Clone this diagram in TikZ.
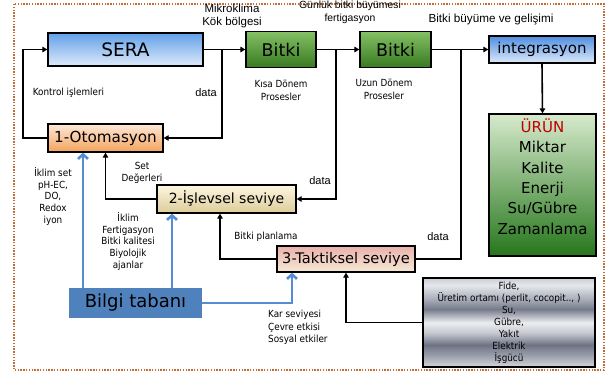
\documentclass[tikz,border=0pt]{standalone}
\usepackage{fontspec}
\setmainfont{DejaVu Sans}
\newfontfamily\cond{DejaVu Sans Condensed}
\newfontfamily\arialf{Liberation Sans}
\usetikzlibrary{arrows.meta}
\definecolor{brd}{RGB}{190,110,55}
\definecolor{seraT}{RGB}{98,160,232}
\definecolor{seraB}{RGB}{222,234,250}
\definecolor{intT}{RGB}{78,142,224}
\definecolor{bitT}{RGB}{132,192,100}
\definecolor{bitB}{RGB}{56,122,34}
\definecolor{urunT}{RGB}{214,234,204}
\definecolor{urunB}{RGB}{38,118,28}
\definecolor{otoT}{RGB}{253,232,216}
\definecolor{otoB}{RGB}{243,163,92}
\definecolor{islT}{RGB}{253,246,226}
\definecolor{islB}{RGB}{220,204,152}
\definecolor{takT}{RGB}{234,178,172}
\definecolor{takB}{RGB}{246,232,212}
\definecolor{bilgi}{RGB}{79,129,189}
\definecolor{bluel}{RGB}{84,141,212}
\definecolor{urunred}{RGB}{192,0,0}
\definecolor{mA}{RGB}{212,214,220}
\definecolor{mB}{RGB}{158,163,174}
\definecolor{mC}{RGB}{110,115,132}
\definecolor{mD}{RGB}{196,199,207}
\definecolor{mE}{RGB}{236,237,240}
\definecolor{mF}{RGB}{118,123,140}
\definecolor{mG}{RGB}{164,168,180}
\definecolor{mH}{RGB}{230,232,236}
\definecolor{mI}{RGB}{201,204,212}
\pgfdeclareverticalshading{metal}{100bp}{color(0bp)=(mA); color(25bp)=(mA); color(31bp)=(mB); color(37.5bp)=(mC); color(44bp)=(mD); color(50bp)=(mE); color(57.5bp)=(mF); color(62.5bp)=(mG); color(71bp)=(mH); color(75bp)=(mI); color(100bp)=(mI)}
\begin{document}
\begin{tikzpicture}[x=1pt,y=-1pt,
  bx/.style={draw=black, line width=1.3pt, rectangle, inner sep=0pt, align=center},
  arr/.style={draw=black, line width=1.6pt, -{Triangle[length=5pt,width=5.5pt]}},
  ln/.style={draw=black, line width=1.6pt},
  barr/.style={draw=bluel, line width=2.6pt, -{Straight Barb[length=4.5pt,width=10pt]}},
  lab/.style={font=\cond\fontsize{9.8}{12}\selectfont, align=center, inner sep=0pt},
  alab/.style={font=\arialf\fontsize{11}{13.5}\selectfont, align=center, inner sep=0pt}]
\useasboundingbox (0,0) rectangle (611,376);
\fill[white] (0,0) rectangle (611,376);
\draw[brd, line width=1.4pt, dash pattern=on 1.4pt off 1.4pt] (14,4) rectangle (604,370);

% boxes
\node[bx, top color=seraT, bottom color=seraB, minimum width=155pt, minimum height=33pt,
      font=\fontsize{18.5}{20}\selectfont] (sera) at (125.5,49.5) {SERA};
\node[bx, top color=bitT, bottom color=bitB, minimum width=70pt, minimum height=36pt,
      font=\fontsize{17.5}{20}\selectfont] (b1) at (281,49.5) {Bitki};
\node[bx, top color=bitT, bottom color=bitB, minimum width=71pt, minimum height=36pt,
      font=\fontsize{17.5}{20}\selectfont] (b2) at (395.5,49.5) {Bitki};
\node[bx, top color=intT, bottom color=seraB, minimum width=106pt, minimum height=27pt,
      font=\fontsize{15}{18}\selectfont] (int) at (542,49.5) {integrasyon};
\node[bx, top color=urunT, bottom color=urunB, minimum width=107pt, minimum height=142pt] (urun) at (542.5,185) {};
\node[inner sep=0pt, align=center, font=\fontsize{15}{20.4}\selectfont] (uruntxt) at (542.5,176.5)
  {\textcolor{urunred}{ÜRÜN}\\Miktar\\Kalite\\Enerji\\Su/Gübre\\Zamanlama};
\node[bx, top color=otoT, bottom color=otoB, minimum width=115pt, minimum height=28pt,
      font=\fontsize{15.2}{18}\selectfont] (oto) at (105.5,138) {1-Otomasyon};
\node[bx, top color=islT, bottom color=islB, minimum width=139pt, minimum height=28pt,
      font=\fontsize{14}{17}\selectfont] (isl) at (226.5,199) {2-İşlevsel seviye};
\node[bx, top color=takT, bottom color=takB, minimum width=138pt, minimum height=26pt,
      font=\fontsize{14.6}{17}\selectfont] (tak) at (346,259) {3-Taktiksel seviye};
\node[fill=bilgi, inner sep=0pt, minimum width=133pt, minimum height=30pt,
      font=\fontsize{18}{20}\selectfont] (bilgi) at (135.5,303) {Bilgi tabanı};
\node[draw=black, line width=1.8pt, shading=metal, inner sep=0pt, minimum width=172pt, minimum height=89pt,
      align=center, font=\cond\fontsize{9.8}{12}\selectfont] (res) at (509,322.5)
  {Fide,\\Üretim ortamı (perlit, cocopit.., )\\Su,\\Gübre,\\Yakıt\\Elektrik\\İşgücü};

% junction coordinates
\coordinate (j1) at (222,49.5);
\coordinate (j2) at (336,49.5);
\coordinate (j3) at (461,49.5);
\coordinate (k1) at (23,0);
\coordinate (t1) at (220,0);
\coordinate (bx1) at (83,0);
\coordinate (bx2) at (172,0);
\coordinate (bx3) at (292,0);

% black connectors
\draw[arr] (sera.east) -- (b1.west);
\draw[arr] (b1.east) -- (b2.west);
\draw[arr] (b2.east) -- (int.west);
\draw[arr] (int.south) -- (urun.north);
\draw[arr] (j1) |- (oto.east);
\draw[arr] (j2) |- (isl.east);
\draw[ln] (j3) |- (tak.east);
\draw[arr] (oto.west) -| (k1 |- sera.west) -- (sera.west);
\draw[arr] (isl.west) -| (oto.south);
\draw[arr] (tak.west) -| (isl.south -| t1);
\draw[arr] (res.west) -| (tak.south);

% blue connectors
\draw[barr] (bilgi.north -| bx1) -- (oto.south -| bx1);
\draw[barr] (bilgi.north -| bx2) -- (isl.south -| bx2);
\draw[barr] (bilgi.east) -| (tak.south -| bx3);

% labels
\node[alab, font=\arialf\fontsize{11.5}{13.5}\selectfont] (mik) at (232,16) {Mikroklima\\Kök bölgesi};
\node[alab, font=\arialf\fontsize{10.4}{13}\selectfont] (gun) at (350,12.5) {Günlük bitki büyümesi\\fertigasyon};
\node[alab, font=\arialf\fontsize{11.7}{14}\selectfont] (bbg) at (491,19) {Bitki büyüme ve gelişimi};
\node[lab] (kon) at (68.5,93) {Kontrol işlemleri};
\node[alab] (d1) at (206,93) {data};
\node[lab, font=\cond\fontsize{9.8}{13}\selectfont] (kisa) at (281,90) {Kısa Dönem\\Prosesler};
\node[lab, font=\cond\fontsize{9.8}{13}\selectfont] (uzun) at (384,89) {Uzun Dönem\\Prosesler};
\node[lab, font=\cond\fontsize{9.8}{11.8}\selectfont] (ikl1) at (53,196.5) {İklim set\\pH-EC,\\DO,\\Redox\\iyon};
\node[lab] (setd) at (142,173) {Set\\Değerleri};
\node[lab, font=\cond\fontsize{9.8}{11.8}\selectfont] (ikl2) at (128,241.5) {İklim\\Fertigasyon\\Bitki kalitesi\\Biyolojik\\ajanlar};
\node[alab] (d2) at (320,181) {data};
\node[lab] (bp) at (266,237) {Bitki planlama};
\node[alab] (d3) at (438,237) {data};
\node[lab, align=left, anchor=west, font=\cond\fontsize{9.8}{12.5}\selectfont] (kar) at (268,327.5) {Kar seviyesi\\Çevre etkisi\\Sosyal etkiler};
\end{tikzpicture}
\end{document}
